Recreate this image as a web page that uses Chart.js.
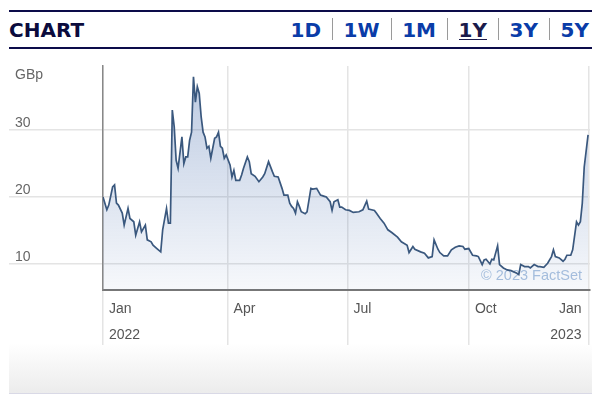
<!DOCTYPE html>
<html>
<head>
<meta charset="utf-8">
<script src="https://cdn.jsdelivr.net/npm/chart.js"></script>
<style>
  body { margin: 0; width: 601px; height: 410px; overflow: hidden; background: #fff; position: relative; }
  .rule { position: absolute; left: 9px; width: 583px; height: 1.5px; background: #0c0c4a; }
  #title { position: absolute; left: 9px; top: 20px; font: bold 20px/20px "DejaVu Sans", sans-serif; color: #0b0b3d; }
  #ranges { position: absolute; right: 12px; top: 20px; display: flex; font: bold 20px/20px "DejaVu Sans", sans-serif; }
  #ranges span { position: relative; padding: 0 11.3px; color: #0a3ca8; }
  #ranges span:first-child { padding-left: 0; }
  #ranges span:last-child { padding-right: 0; }
  #ranges span + span::before { content: ''; position: absolute; left: 0; top: -2px; height: 22px; border-left: 1px solid #9a9a9a; }
  #ranges span.on { color: #1b1b4b; }
  #ranges span.on::after { content: ''; position: absolute; left: 11.3px; right: 11.3px; top: 18.5px; height: 1.5px; background: #1b1b4b; }
  #unit { position: absolute; left: 15px; top: 67px; font: 14px/14px "Liberation Sans", Arial, sans-serif; color: #666; }
  #footer { position: absolute; left: 9px; top: 343px; width: 583px; height: 50px; background: linear-gradient(#fff, #ececec); border-bottom: 1px solid #d9d9e6; }
  #wrap { position: absolute; left: 0; top: 56px; width: 601px; height: 300px; }
</style>
</head>
<body>
<div class="rule" style="top:10px"></div>
<div class="rule" style="top:47px"></div>
<div id="title">CHART</div>
<div id="ranges"><span>1D</span><span>1W</span><span>1M</span><span class="on">1Y</span><span>3Y</span><span>5Y</span></div>
<div id="footer"></div>
<div id="wrap"><canvas id="priceChart"></canvas></div>
<div id="unit">GBp</div>

<script>
// trading day index since start of 2022, and closing price in pence
const tradingDay = [
    0, 2, 3, 5, 6, 7, 8, 10, 11, 13,
    14, 16, 17, 19, 20, 22, 23, 25, 26, 28,
    30, 31, 33, 34, 35, 36, 37, 38, 39, 41,
    42, 43, 44, 45, 46, 47, 48, 49, 50, 51,
    52, 53, 54, 55, 56, 58, 59, 60, 61, 62,
    63, 64, 66, 67, 68, 69, 71, 72, 73, 75,
    76, 77, 79, 81, 83, 84, 86, 88, 89, 91,
    93, 94, 96, 97, 98, 99, 100, 101, 102, 103,
    105, 106, 108, 109, 111, 113, 115, 116, 118, 119,
    120, 122, 123, 124, 126, 128, 130, 133, 135, 137,
    138, 141, 142, 144, 146, 148, 150, 153, 155, 158,
    159, 161, 162, 165, 167, 169, 171, 172, 174, 175,
    177, 179, 181, 183, 185, 187, 188, 190, 192, 194,
    195, 197, 198, 199, 201, 202, 203, 205, 206, 208,
    210, 212, 215, 216, 217, 219, 221, 222, 224, 226,
    227, 229, 231, 233, 234, 235, 237, 239, 240, 241,
    243, 244, 246, 247, 248, 249, 250, 252
];
const priceGBp = [
    20.0, 18.1, 18.8, 21.5, 21.8, 19.1, 18.8, 17.6, 15.8, 18.3,
    16.8, 16.3, 14.3, 16.3, 14.8, 15.8, 13.6, 13.3, 12.8, 12.3,
    11.8, 15.1, 18.3, 16.1, 16.1, 33.0, 30.5, 25.5, 24.3, 29.0,
    25.0, 26.0, 26.0, 28.5, 29.7, 38.0, 34.2, 36.5, 35.5, 32.0,
    29.7, 29.0, 27.3, 27.6, 25.8, 28.8, 29.0, 29.7, 27.6, 27.3,
    25.8, 26.3, 24.8, 23.0, 24.0, 22.5, 22.5, 23.3, 24.3, 26.0,
    25.3, 23.5, 23.1, 22.3, 23.0, 23.5, 25.3, 23.8, 23.1, 23.0,
    21.3, 20.3, 20.3, 19.1, 18.6, 18.3, 17.6, 19.3, 18.6, 17.8,
    17.5, 17.8, 21.3, 21.2, 21.3, 20.3, 20.1, 20.0, 19.3, 18.0,
    19.3, 19.6, 18.5, 18.5, 18.1, 18.0, 17.7, 17.8, 18.1, 19.4,
    18.2, 18.0, 17.6, 16.8, 16.1, 15.1, 14.7, 14.0, 13.3, 12.8,
    11.7, 12.6, 12.2, 11.8, 11.6, 10.9, 11.1, 13.6, 12.2, 11.7,
    11.2, 11.2, 12.1, 12.5, 12.7, 12.6, 12.2, 12.3, 11.3, 11.2,
    11.1, 9.9, 10.6, 10.7, 10.0, 10.7, 10.6, 12.7, 9.9, 9.4,
    9.1, 9.0, 8.6, 8.4, 9.9, 9.6, 9.6, 9.4, 9.9, 9.6,
    9.6, 9.5, 10.1, 11.1, 12.1, 11.1, 10.9, 10.4, 10.7, 11.3,
    11.3, 12.1, 16.3, 15.8, 16.3, 19.1, 24.5, 29.3
];
const yTicks = [10, 20, 30];
const quarterPos = [0, 64.7, 127, 190.1, 252.2];
const quarterMonth = ['Jan', 'Apr', 'Jul', 'Oct', 'Jan'];
const quarterYear = ['2022', '', '', '', '2023'];

const points = tradingDay.map((d, i) => ({x: d, y: priceGBp[i]}));

function fillGradient(context) {
    const {ctx, chartArea} = context.chart;
    if (!chartArea) return null;
    const g = ctx.createLinearGradient(0, chartArea.top, 0, chartArea.bottom);
    g.addColorStop(0, 'rgba(40, 85, 160, 0.32)');
    g.addColorStop(1, 'rgba(40, 85, 160, 0.04)');
    return g;
}

// month / year labels sit to the right of each quarter line, last one to the left
const xLabels = {
    id: 'xLabels',
    afterDraw(chart) {
        const {ctx, chartArea, scales: {x}} = chart;
        ctx.save();
        ctx.font = '14px "Liberation Sans", Arial, sans-serif';
        ctx.fillStyle = '#555';
        ctx.textBaseline = 'middle';
        quarterPos.forEach((p, i) => {
            const px = x.getPixelForValue(p);
            const last = i === quarterPos.length - 1;
            ctx.textAlign = last ? 'right' : 'left';
            const tx = last ? px - 7 : px + 6;
            ctx.fillText(quarterMonth[i], tx, chartArea.bottom + 19);
            if (quarterYear[i]) ctx.fillText(quarterYear[i], tx, chartArea.bottom + 45);
        });
        ctx.restore();
    }
};

// watermark goes on top of the fill but under the price line
const copyright = {
    id: 'copyright',
    beforeDatasetsDraw(chart) {
        const {ctx, chartArea} = chart;
        ctx.save();
        ctx.font = '14.5px "Liberation Sans", Arial, sans-serif';
        ctx.fillStyle = '#a4bddd';
        ctx.textAlign = 'right';
        ctx.textBaseline = 'middle';
        ctx.fillText('\u00a9 2023 FactSet', chartArea.right - 8, chartArea.bottom - 14);
        ctx.restore();
    }
};

new Chart(document.getElementById('priceChart'), {
    type: 'line',
    data: {
        datasets: [{
            data: points,
            borderColor: '#3a587e',
            borderWidth: 1.7,
            pointRadius: 0,
            tension: 0,
            fill: 'start',
            backgroundColor: fillGradient,
        }]
    },
    options: {
        responsive: true,
        maintainAspectRatio: false,
        animation: false,
        layout: {padding: {left: 15, right: 11, top: 10, bottom: 11}},
        plugins: {
            legend: {display: false},
            tooltip: {enabled: false},
            filler: {drawTime: 'beforeDatasetsDraw'}
        },
        scales: {
            x: {
                type: 'linear',
                min: 0,
                max: 253,
                afterBuildTicks: s => { s.ticks = quarterPos.map(v => ({value: v})); },
                ticks: {display: false},
                grid: {color: '#e4e4e4', lineWidth: 1.5, tickLength: 55},
                border: {color: '#777', width: 2}
            },
            y: {
                min: 6.1,
                max: 39.6,
                afterBuildTicks: s => { s.ticks = yTicks.map(v => ({value: v})); },
                afterFit: s => { s.width = 88; s.paddingTop = 0; s.paddingBottom = 0; },
                ticks: {
                    crossAlign: 'far',
                    labelOffset: -7,
                    color: '#666',
                    font: {family: '"Liberation Sans", Arial, sans-serif', size: 14}
                },
                grid: {color: '#e4e4e4', lineWidth: 1.5, tickLength: 94},
                border: {color: '#888', width: 1.5}
            }
        }
    },
    plugins: [copyright, xLabels]
});
</script>
</body>
</html>
